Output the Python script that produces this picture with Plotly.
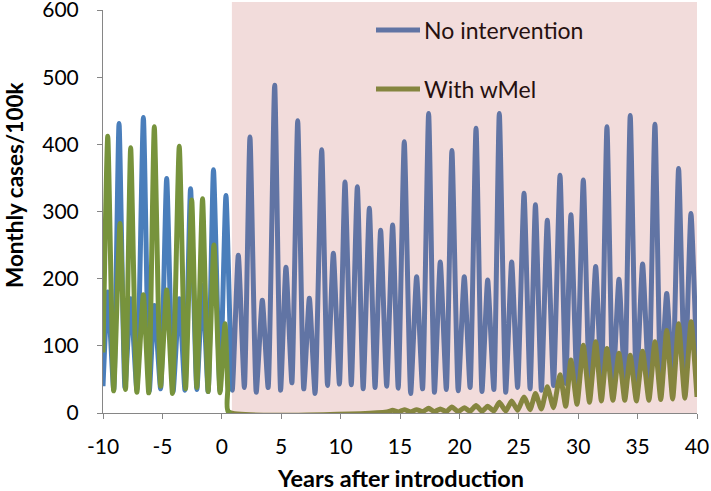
import plotly.graph_objects as go

# ---------------- data (turning points) ----------------
blue_t = [-10, -9.6, -9.1, -8.65, -8.15, -7.67, -7.15, -6.6, -6.1, -5.68, -5.15,
          -4.64, -4.1, -3.58, -3.1, -2.63, -2.1, -1.62, -1.15, -0.7, -0.15,
          0.35, 0.88, 1.39, 1.9, 2.37, 2.9, 3.41, 3.9, 4.45, 4.95, 5.4, 5.9,
          6.39, 6.9, 7.37, 7.85, 8.41, 8.9, 9.39, 9.9, 10.37, 10.9, 11.41, 11.9,
          12.42, 12.9, 13.37, 13.88, 14.38, 14.85, 15.36, 15.9, 16.4, 16.9,
          17.41, 17.9, 18.39, 18.9, 19.37, 19.9, 20.41, 20.9, 21.4, 21.9,
          22.38, 22.9, 23.36, 23.9, 24.4, 24.9, 25.44, 25.95, 26.4, 26.9,
          27.4, 27.92, 28.47, 28.95, 29.39, 29.9, 30.43, 30.95, 31.47, 31.95,
          32.42, 32.92, 33.43, 33.92, 34.38, 34.9, 35.42, 35.95, 36.46, 36.95,
          37.45, 37.95, 38.45, 38.98, 39.49, 40]
blue_v = [40, 180, 35, 431, 38, 170, 35, 440, 33, 160, 36,
          349, 32, 170, 34, 334, 35, 190, 32, 362, 33,
          324, 34, 235, 38, 411, 31, 168, 38, 488, 34, 217, 45,
          435, 36, 171, 29, 392, 41, 238, 43, 344, 42, 337, 36,
          305, 38, 272, 40, 280, 37, 404, 29, 203, 36,
          446, 31, 225, 35, 391, 33, 203, 38, 424, 32,
          198, 35, 446, 31, 225, 38, 327, 36, 310, 34,
          287, 41, 354, 44, 295, 42, 347, 40, 218, 45,
          426, 38, 199, 42, 443, 38, 222, 44, 430, 40,
          178, 45, 364, 42, 297, 60]

green_t = [-10, -9.6, -9.1, -8.57, -8.1, -7.67, -7.15, -6.6, -6.15, -5.68, -5.15,
           -4.64, -4.15, -3.58, -3.05, -2.53, -2.1, -1.62, -1.15, -0.66, -0.15,
           0.27, 0.5, 0.55, 13.9, 14.38, 14.88, 15.36, 15.9, 16.4, 16.9,
           17.41, 17.9, 18.39, 18.9, 19.37, 19.9, 20.41, 20.9, 21.4, 21.9,
           22.38, 22.9, 23.36, 23.9, 24.4, 24.9, 25.44, 25.95, 26.4, 26.9,
           27.4, 27.92, 28.47, 28.95, 29.39, 29.9, 30.43, 30.95, 31.47, 31.95,
           32.42, 32.92, 33.43, 33.92, 34.38, 34.9, 35.42, 35.95, 36.46, 36.95,
           37.45, 37.95, 38.45, 38.98, 39.5, 40]
green_v = [90, 412, 33, 282, 35, 395, 31, 176, 30, 426, 40,
           183, 29, 397, 36, 317, 38, 319, 32, 250, 30,
           133, 35, 2, 1.5, 4, 1.5, 5, 1.5, 5, 2,
           7, 2, 6, 2, 9, 2, 8, 2.5, 11, 2.5,
           10, 3, 16, 3, 18, 4, 24, 5, 29, 6,
           39, 8, 57, 10, 79, 13, 101, 16, 106, 18,
           96, 19, 89, 19, 86, 18, 92, 19, 106, 20,
           123, 21, 133, 22, 136, 24]

series_names = ["No intervention", "With wMel"]
x_title = "Years after introduction"
y_title = "Monthly cases/100k"
intervention_start = 0.85          # shaded period after wMel introduction
x_tick_vals = [-10, -5, 0, 5, 10, 15, 20, 25, 30, 35, 40]
x_tick_text = ["-10", "-5", "0", "5", "10", "15", "20", "25", "30", "35", "40"]
y_tick_vals = [0, 100, 200, 300, 400, 500, 600]

# ---------------- styling ----------------
BLUE = "#4A7EBB"
GREEN = "#77933C"
SHADE = "rgba(192,80,77,0.2)"
AXIS = "#868686"
FONT = "Lato"

fig = go.Figure()
fig.add_trace(go.Scatter(x=blue_t, y=blue_v, mode="lines", name=series_names[0],
                         line=dict(color=BLUE, width=5, shape="spline", smoothing=0.5),
                         showlegend=False))
fig.add_trace(go.Scatter(x=green_t, y=green_v, mode="lines", name=series_names[1],
                         line=dict(color=GREEN, width=5, shape="spline", smoothing=0.5),
                         showlegend=False))

L, R, T, B = 103, 14, 10, 78
W, H = 711, 491
pw, ph = W - L - R, H - T - B

def px2paper_x(px):
    return (px - L) / pw

def px2paper_y(py):
    return (H - B - py) / ph

shapes = []
annotations = []
# legend (drawn under the shading overlay, as in the reference)
for name, col, py in [(series_names[0], BLUE, 30), (series_names[1], GREEN, 89)]:
    shapes.append(dict(type="line", xref="paper", yref="paper",
                       x0=px2paper_x(376), x1=px2paper_x(420),
                       y0=px2paper_y(py), y1=px2paper_y(py),
                       line=dict(color=col, width=5), layer="above"))
    annotations.append(dict(xref="paper", yref="paper", x=px2paper_x(422),
                            y=px2paper_y(py), text=name, showarrow=False,
                            xanchor="left", yanchor="middle",
                            font=dict(family=FONT, size=23, color="#26100F")))
# shaded overlay for the intervention period
shapes.append(dict(type="rect", xref="x", yref="paper", x0=intervention_start, x1=40,
                   y0=0, y1=px2paper_y(2), fillcolor=SHADE, line=dict(width=0),
                   layer="above"))

# axis titles
annotations.append(dict(xref="paper", yref="paper", x=px2paper_x(400), y=px2paper_y(478),
                        text="<b>%s</b>" % x_title, showarrow=False,
                        xanchor="center", yanchor="middle",
                        font=dict(family=FONT, size=23.5, color="black")))
annotations.append(dict(xref="paper", yref="paper", x=px2paper_x(14), y=px2paper_y(185),
                        text="<b>%s</b>" % y_title, showarrow=False, textangle=-90,
                        xanchor="center", yanchor="middle",
                        font=dict(family=FONT, size=22.5, color="black")))

fig.update_layout(
    width=W, height=H,
    margin=dict(l=L, r=R, t=T, b=B, autoexpand=False),
    paper_bgcolor="white", plot_bgcolor="white",
    font=dict(family=FONT, size=21, color="black"),
    shapes=shapes, annotations=annotations,
    showlegend=False,
)
fig.update_xaxes(range=[-10, 40], tickvals=x_tick_vals, ticktext=x_tick_text,
                 ticks="outside", ticklen=5, automargin=False,
                 ticklabeloverflow="allow", ticklabelstandoff=10,
                 tickcolor=AXIS, showline=True, linecolor=AXIS, linewidth=1,
                 showgrid=False, zeroline=False,
                 tickfont=dict(family=FONT, size=21, color="black"))
fig.update_yaxes(range=[0, 600], tickvals=y_tick_vals, ticks="outside", ticklen=5,
                 automargin=False, ticklabeloverflow="allow", ticklabelstandoff=14,
                 tickcolor=AXIS, showline=True, linecolor=AXIS, linewidth=1,
                 showgrid=False, zeroline=False,
                 tickfont=dict(family=FONT, size=21, color="black"))

fig.write_html("out.html", config={"displayModeBar": False},
               post_script="document.body.style.margin='0px';")
